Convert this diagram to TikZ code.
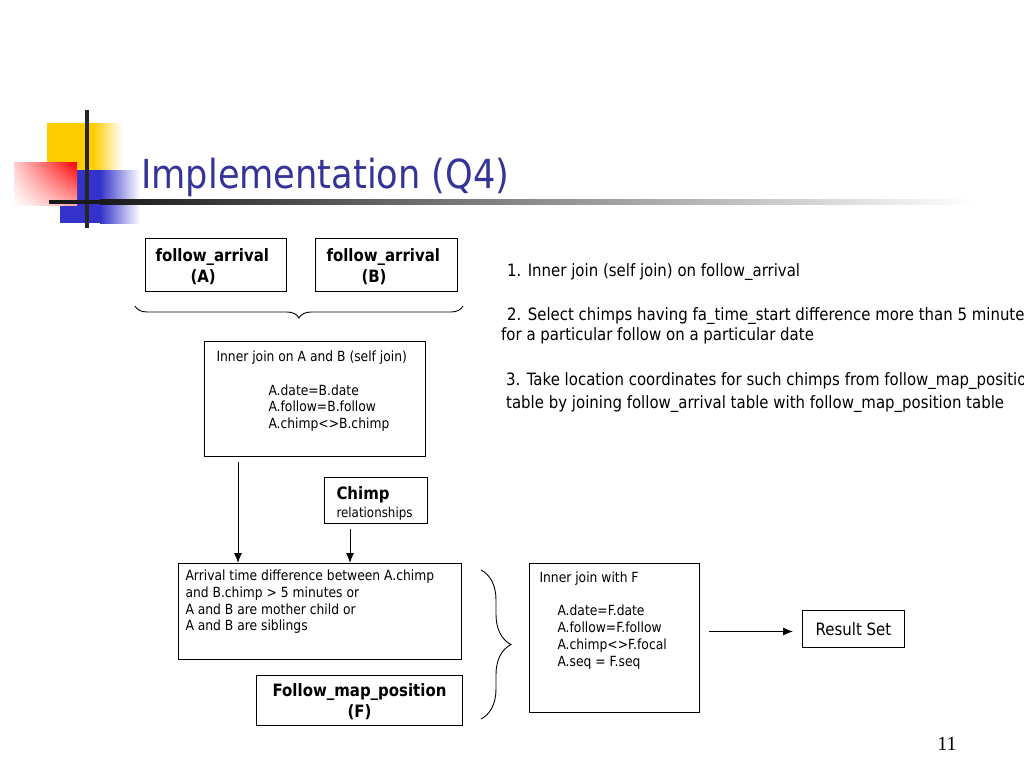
\documentclass[tikz,border=0pt]{standalone}
\usepackage{fontspec}
\setmainfont{DejaVu Sans}[FakeStretch=0.88]
\newfontfamily\numfont{Liberation Serif}
\usetikzlibrary{calc,arrows.meta,decorations.pathreplacing,shadings}
\definecolor{titleblue}{RGB}{51,51,153}
\definecolor{logoyellow}{RGB}{255,204,0}
\definecolor{logoblue}{RGB}{51,51,204}
\definecolor{logored}{RGB}{255,0,0}
% width, height, left inset, top inset, text
\newcommand{\boxtext}[5]{\parbox[c][#2pt][t]{#1pt}{\leftskip=#3pt\rightskip=0pt plus 1fil\vspace*{#4pt}#5}}
\tikzset{
  box/.style={draw, line width=1pt, inner sep=0pt, anchor=north west},
  smalltxt/.style={font=\fontsize{14}{16.8}\selectfont},
  boldtxt/.style={font=\fontsize{17}{21}\selectfont\bfseries},
  notetxt/.style={font=\fontsize{17}{20}\selectfont, inner sep=0pt, anchor=base west, align=left},
  flow/.style={-{Latex[length=10pt,width=8pt]}, line width=1pt},
  hbrace/.style={decorate, decoration={brace, mirror, amplitude=12pt}, line width=0.9pt},
  vbrace/.style={decorate, decoration={brace, amplitude=30pt}, line width=0.9pt}
}
\begin{document}
\begin{tikzpicture}[x=1pt,y=-1pt]
  \useasboundingbox (0,0) rectangle (1024,768);
  \clip (0,0) rectangle (1024,768);
  % logo
  \fill[logoyellow] (47,123) rectangle (93,178);
  \shade[left color=logoyellow, right color=white] (93,123) rectangle (122,178);
  \fill[logoblue] (60,170) rectangle (100,223);
  \shade[left color=logoblue, right color=white] (100,170) rectangle (140,223);
  \shade[upper left=logored!20, upper right=logored, lower left=white, lower right=logored!35] (14,162) rectangle (77,205);
  \fill[black!85] (85.2,110) rectangle (88.8,228);
  \fill[black!90] (49,199.5) rectangle (100,204);
  \shade[left color=black!90, right color=white] (100,199.5) rectangle (975,204);
  \node[anchor=base west, inner sep=0pt, text=titleblue, font=\fontsize{40}{44}\selectfont] (title) at (141,188) {Implementation (Q4)};

  \node[box, boldtxt] (faA) at (145,238) {\boxtext{141}{53}{10}{9.8}{follow\_arrival\\\hspace*{35pt}(A)}};
  \node[box, boldtxt] (faB) at (315,238) {\boxtext{142}{53}{11}{9.8}{follow\_arrival\\\hspace*{35pt}(B)}};
  \node[box, smalltxt] (selfjoin) at (204,341) {\boxtext{221}{115}{12}{9.4}{Inner join on A and B (self join)\\[16.8pt]\hspace*{52pt}A.date=B.date\\\hspace*{52pt}A.follow=B.follow\\\hspace*{52pt}A.chimp<>B.chimp}};
  \node[box, font=\fontsize{13.5}{17.4}\selectfont] (chimp) at (324,477) {\boxtext{103}{46}{12}{9.4}{{\fontsize{17}{17.4}\selectfont\bfseries Chimp}\\relationships}};
  \node[box, smalltxt] (cond) at (178,563) {\boxtext{283}{96}{7}{6.4}{Arrival time difference between A.chimp\\and B.chimp > 5 minutes or\\A and B are  mother child or\\A and B are siblings}};
  \node[box, boldtxt] (fmp) at (256,675) {\boxtext{206}{50}{0}{7.6}{\centering Follow\_map\_position\\(F)}};
  \node[box, smalltxt] (joinF) at (529,563) {\boxtext{170}{149}{10}{7.9}{Inner join with F\\[16.8pt]\hspace*{18pt}A.date=F.date\\\hspace*{18pt}A.follow=F.follow\\\hspace*{18pt}A.chimp<>F.focal\\\hspace*{18pt}A.seq = F.seq}};
  \node[box, font=\fontsize{17}{20}\selectfont, minimum width=102pt, minimum height=37pt] (result) at (802,610) {Result Set};

  \draw[hbrace] ($(faA.south west)+(-10,14)$) -- ($(faB.south east)+(5,14)$);
  \draw[vbrace] ($(cond.north east)+(19,7)$) -- ($(fmp.south east)+(18,-7)$);
  \draw[flow] ($(selfjoin.south west)+(34,5)$) -- ($(cond.north west)+(60,0)$);
  \draw[flow] ($(chimp.south west)+(26,5)$) -- ($(cond.north west)+(172,0)$);
  \draw[flow] ($(joinF.east |- result.west)+(9,2.5)$) -- ($(result.west)+(-9,2.5)$);

  % multi-line nodes sit on their last baseline
  \node[notetxt] (step1) at (507,276.7) {1. Inner join (self join) on follow\_arrival};
  \node[notetxt] (step2) at (501,340) {\hspace*{6pt}2. Select chimps having fa\_time\_start difference more than 5 minutes\\for a particular follow on a particular date};
  \node[notetxt, font=\fontsize{17}{22.6}\selectfont] (step3) at (506,408.3) {3. Take location coordinates for such chimps from follow\_map\_position\\table by joining follow\_arrival table with follow\_map\_position table};
  \node[font=\numfont\fontsize{20}{24}\selectfont] (pagenum) at (947,744) {11};
\end{tikzpicture}
\end{document}
